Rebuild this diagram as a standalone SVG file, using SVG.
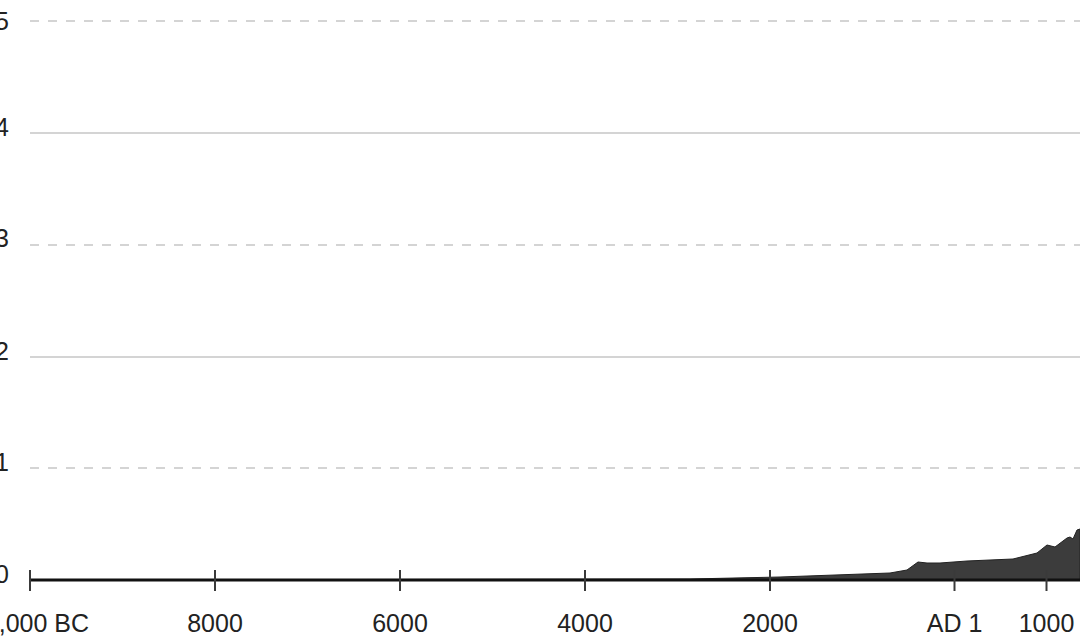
<svg xmlns="http://www.w3.org/2000/svg" width="1080" height="638" viewBox="0 0 1080 638">
<style>
.grid{stroke:#d4d4d4;stroke-width:2;fill:none}
.dash{stroke-dasharray:9 9}
.tick{stroke:#3a3a3a;stroke-width:2}
.lbl{font-family:"Liberation Sans",Arial,sans-serif;font-size:25px;fill:#222}
</style>
<rect width="1080" height="638" fill="#ffffff"/>
<g id="gridlines">
<line class="grid dash" x1="30" y1="21" x2="1080" y2="21"/>
<line class="grid" x1="30" y1="133" x2="1080" y2="133"/>
<line class="grid dash" x1="30" y1="245" x2="1080" y2="245"/>
<line class="grid" x1="30" y1="357" x2="1080" y2="357"/>
<line class="grid dash" x1="30" y1="468" x2="1080" y2="468"/>
</g>
<g id="y-labels" class="lbl" text-anchor="end">
<text x="9" y="30">5</text>
<text x="9" y="136">4</text>
<text x="9" y="247">3</text>
<text x="9" y="360">2</text>
<text x="9" y="471">1</text>
<text x="9" y="583">0</text>
</g>
<g id="area">
<path d="M30,580 L690,579 L780,577 L890,573 L907,570 L918,562 L927,563 L940,563 L967,561 L1013,559 L1037,553 L1047,545 L1055,547 L1067,538 L1070,537 L1073,539 L1077,530 L1080,529 L1080,580 Z" fill="#3c3c3c" stroke="#222" stroke-width="1"/>
</g>
<g id="axis">
<line x1="30" y1="580" x2="1080" y2="580" stroke="#111" stroke-width="3"/>
<line class="tick" x1="30" y1="570" x2="30" y2="591"/>
<line class="tick" x1="215" y1="570" x2="215" y2="591"/>
<line class="tick" x1="400" y1="570" x2="400" y2="591"/>
<line class="tick" x1="585" y1="570" x2="585" y2="591"/>
<line class="tick" x1="770" y1="570" x2="770" y2="591"/>
<line class="tick" x1="954.5" y1="570" x2="954.5" y2="591"/>
<line class="tick" x1="1046.5" y1="570" x2="1046.5" y2="591"/>
</g>
<g id="x-labels" class="lbl" text-anchor="middle">
<text x="30" y="632">10,000 BC</text>
<text x="215" y="632">8000</text>
<text x="400" y="632">6000</text>
<text x="585" y="632">4000</text>
<text x="770" y="632">2000</text>
<text x="954.5" y="632">AD 1</text>
<text x="1046.5" y="632">1000</text>
</g>
</svg>
